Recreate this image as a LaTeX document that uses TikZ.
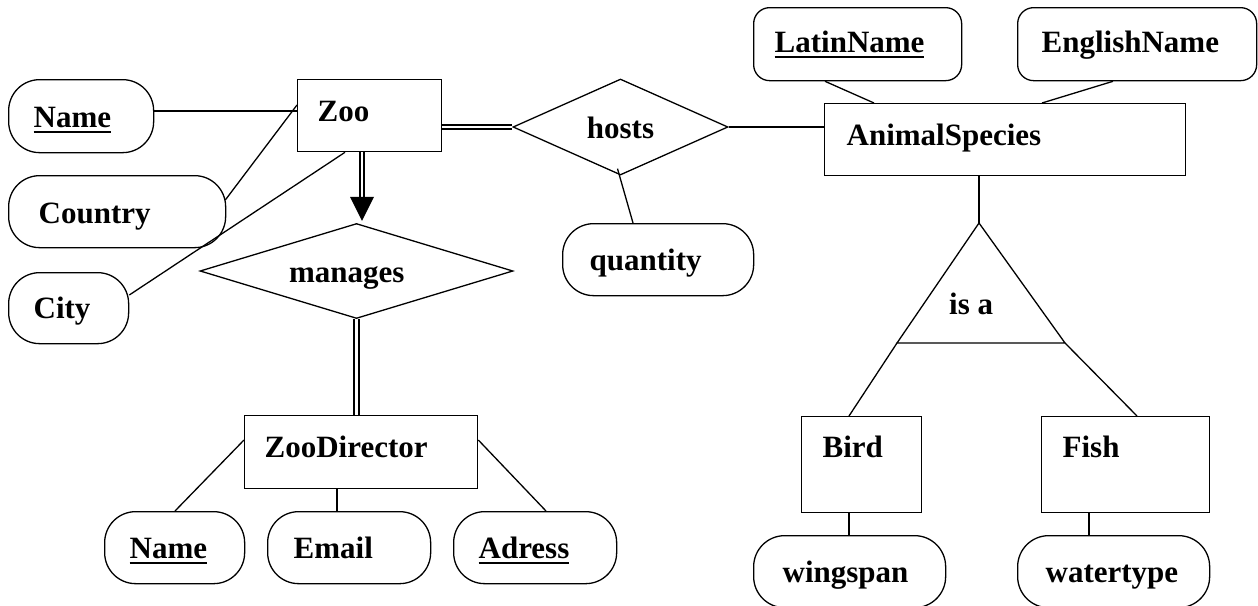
\documentclass[tikz,border=0pt]{standalone}
\usepackage{fontspec}
\setmainfont{Liberation Serif}
\usetikzlibrary{calc,shapes.geometric}
\newcommand{\ulbox}[1]{\setbox0\hbox{#1}\rlap{\raisebox{-5.5pt}{\rule{\wd0}{2.6pt}}}\box0}
\newcommand{\lbox}[3]{\makebox[#1pt][l]{\hspace*{#2pt}#3}}
\tikzset{
  base/.style={inner sep=0pt, line width=1.3pt, anchor=north west, font=\fontsize{31}{36}\selectfont\bfseries},
  entity/.style={base, draw, rectangle},
  attr/.style={base, draw, rectangle, rounded corners=#1},
  attr/.default=31pt,
  rel/.style={draw, diamond, inner sep=0pt, line width=1.3pt, font=\fontsize{31}{36}\selectfont\bfseries, text height=22pt, text depth=0pt},
  conn/.style={line width=1.3pt},
  dbl/.style={double, double distance=2.3pt, line width=2pt},
}
\begin{document}
\begin{tikzpicture}[x=1pt,y=-1pt]
\useasboundingbox (0,0) rectangle (1258,605);
% entities
\node[entity, text height=42pt, text depth=30pt] (Zoo) at (297,79) {\lbox{144}{20}{Zoo}};
\node[entity, text height=42pt, text depth=30pt] (AnimalSpecies) at (824,103) {\lbox{361}{22}{AnimalSpecies}};
\node[entity, text height=42pt, text depth=31pt] (ZooDirector) at (244,415) {\lbox{233}{20}{ZooDirector}};
\node[entity, text height=41pt, text depth=55pt] (Bird) at (801,416) {\lbox{120}{21}{Bird}};
\node[entity, text height=41pt, text depth=55pt] (Fish) at (1041,416) {\lbox{168}{21}{Fish}};
% attributes
\node[attr, text height=48pt, text depth=25pt] (NameZ) at (8,79) {\lbox{145}{25}{\ulbox{Name}}};
\node[attr, text height=48pt, text depth=24pt] (Country) at (8,175) {\lbox{217}{30}{Country}};
\node[attr, text height=46pt, text depth=25pt] (City) at (8,272) {\lbox{120}{25}{City}};
\node[attr, text height=47pt, text depth=25pt] (quantity) at (562,223) {\lbox{191}{27}{quantity}};
\node[attr=16pt, text height=45pt, text depth=28pt] (LatinName) at (753,7) {\lbox{208}{21}{\ulbox{LatinName}}};
\node[attr=16pt, text height=45pt, text depth=28pt] (EnglishName) at (1017,7) {\lbox{239}{24}{EnglishName}};
\node[attr, text height=47pt, text depth=25pt] (wingspan) at (753,535) {\lbox{192}{29}{wingspan}};
\node[attr, text height=47pt, text depth=25pt] (watertype) at (1017,535) {\lbox{192}{28}{watertype}};
\node[attr, text height=47pt, text depth=25pt] (NameD) at (104,511) {\lbox{140}{25}{\ulbox{Name}}};
\node[attr, text height=47pt, text depth=25pt] (Email) at (267,511) {\lbox{163}{26}{Email}};
\node[attr, text height=47pt, text depth=25pt] (Adress) at (453,511) {\lbox{163}{25}{\ulbox{Adress}}};
% relationships
\node[rel, aspect=2.24, minimum width=215pt, minimum height=96pt] (hosts) at (620.5,127) {hosts};
\node[rel, aspect=3.3, minimum width=313pt, minimum height=95pt] (manages) at (356.5,271) {\makebox[135pt][l]{manages}};
% is a
\coordinate (isaTop) at (979,223);
\coordinate (isaL) at (897,343);
\coordinate (isaR) at (1065,343);
\draw[conn, line join=miter] (isaTop) -- (isaL) -- (isaR) -- cycle;
\node[anchor=base west, inner sep=0pt, font=\fontsize{31}{36}\selectfont\bfseries] (isatxt) at (949,314) {is a};
% connectors Zoo
\draw[conn] ($(NameZ.north east)+(0,32)$) -- ($(Zoo.north west)+(0,32)$);
\draw[conn] ($(Country.north east)+(-1,25)$) -- ($(Zoo.north west)+(0,26)$);
\draw[conn] ($(City.north east)+(0,23)$) -- ($(Zoo.south west)+(48,0)$);
\draw[dbl] ($(Zoo.south west)+(65,0)$) coordinate (zd) -- ($(zd |- manages.north)+(0,-26)$) coordinate (ztip);
\fill ($(ztip)+(-12,0)$) -- ($(ztip)+(12,0)$) -- ($(ztip)+(0,24)$) -- cycle;
\draw[dbl] (Zoo.east |- hosts.west) -- (hosts.west);
\draw[conn] (hosts.east) -- (AnimalSpecies.west |- hosts.east);
\draw[conn] ($(hosts.south)+(-3,-7)$) -- ($(quantity.north west)+(71,0)$);
% manages
\draw[dbl] (manages.south) -- (manages.south |- ZooDirector.north);
\draw[conn] ($(ZooDirector.north west)+(0,25)$) -- ($(NameD.north west)+(71,0)$);
\draw[conn] ($(ZooDirector.south west)+(93,0)$) -- ($(Email.north west)+(70,0)$);
\draw[conn] ($(ZooDirector.north east)+(0,25)$) -- ($(Adress.north west)+(93,0)$);
% AnimalSpecies
\draw[conn] ($(LatinName.south west)+(72,0)$) -- ($(AnimalSpecies.north west)+(50,0)$);
\draw[conn] ($(EnglishName.south west)+(96,0)$) -- ($(AnimalSpecies.north west)+(218,0)$);
\draw[conn] (isaTop |- AnimalSpecies.south) -- (isaTop);
\draw[conn] (isaL) -- ($(Bird.north west)+(48,0)$);
\draw[conn] (isaR) -- ($(Fish.north west)+(96,0)$);
\draw[conn] ($(Bird.south west)+(48,0)$) -- ($(wingspan.north west)+(96,0)$);
\draw[conn] ($(Fish.south west)+(48,0)$) -- ($(watertype.north west)+(72,0)$);
\end{tikzpicture}
\end{document}
